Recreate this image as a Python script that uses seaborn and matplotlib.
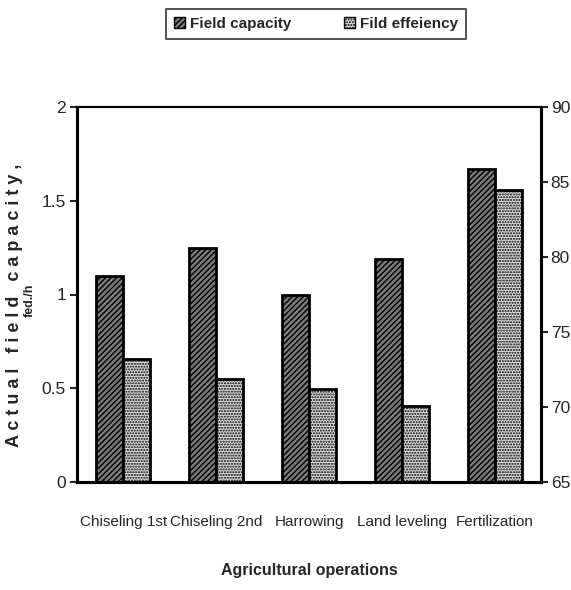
import matplotlib
matplotlib.use("Agg")
import matplotlib.pyplot as plt
import seaborn as sns
import pandas as pd
import numpy as np
from matplotlib.patches import Patch

operations = ["Chiseling 1st", "Chiseling 2nd", "Harrowing", "Land leveling", "Fertilization"]
field_capacity = [1.10, 1.25, 1.00, 1.19, 1.67]
field_efficiency = [73.2, 71.9, 71.2, 70.1, 84.5]
series = ["Field capacity", "Fild effeiency"]
left_ticks = [0, 0.5, 1, 1.5, 2]
right_ticks = [65, 70, 75, 80, 85, 90]

sns.set_style("white")
FONT = ["Liberation Sans Narrow", "Liberation Sans", "DejaVu Sans"]
plt.rcParams["font.family"] = FONT
plt.rcParams["hatch.linewidth"] = 1.0

BW = 0.29
idx = np.arange(len(operations))
df_fc = pd.DataFrame({"pos": idx - BW / 2, "val": field_capacity})
df_fe = pd.DataFrame({"pos": idx + BW / 2, "val": field_efficiency})

fig = plt.figure(figsize=(5.71, 5.90), dpi=100)
ax = fig.add_axes([77/571, 1-482/590, (541-77)/571, (482-107)/590])
ax2 = ax.twinx()

c_fc = "#7a7a7a"
c_fe = "#dcdcdc"
sns.barplot(data=df_fc, x="pos", y="val", native_scale=True, width=BW, color=c_fc,
            saturation=1, ax=ax, edgecolor="black", linewidth=2)
sns.barplot(data=df_fe, x="pos", y="val", native_scale=True, width=BW, color=c_fe,
            saturation=1, ax=ax2, edgecolor="black", linewidth=2)

for p in ax.patches:
    p.set_hatch("//////")
for p in ax2.patches:
    p.set_hatch("......")

ax.set_xlim(-0.5, 4.5)
ax.set_ylim(0, 2)
ax2.set_ylim(65, 90)
ax.set_yticks(left_ticks)
ax.set_yticklabels(["0", "0.5", "1", "1.5", "2"])
ax2.set_yticks(right_ticks)
ax2.set_yticklabels([str(t) for t in right_ticks])

ax.set_xticks(idx)
ax.set_xticklabels(operations, fontsize=11)
ax.tick_params(axis="x", length=0, pad=24)
ax.set_xticks(np.arange(-0.5, 4.0, 1.0), minor=True)
ax.tick_params(axis="x", which="minor", length=6, width=1.5, direction="out", color="black")
ax.tick_params(axis="y", length=5, width=1.5, direction="out", labelsize=12.5, left=True, pad=3)
ax2.tick_params(axis="y", length=5, width=1.5, direction="out", labelsize=12.5, right=True, pad=2)

ax.set_xlabel("Agricultural operations", fontsize=11.5, fontweight="bold", labelpad=24)
ax.set_ylabel("")
ax2.set_ylabel("")

for a in (ax, ax2):
    for s in ["left", "right", "bottom"]:
        a.spines[s].set_linewidth(2.2)
        a.spines[s].set_color("black")
    a.spines["top"].set_linewidth(1.5)
    a.spines["top"].set_color("black")

fig.text(15/571, 1-305/590, "A c t u a l   f i e l d   c a p a c i t y ,",
         rotation=90, ha="center", va="center", fontsize=13, fontweight="bold")
fig.text(30/571, 1-300/590, "fed./h", rotation=90, ha="center", va="center",
         fontsize=9, fontweight="bold")

handles = [Patch(facecolor=c_fc, edgecolor="black", hatch="//////"),
           Patch(facecolor=c_fe, edgecolor="black", hatch="......")]
leg = fig.legend(handles, series, loc="center", bbox_to_anchor=(316/571, 1-24/590), ncol=2,
                 frameon=True, fancybox=False, edgecolor="black", handlelength=0.7,
                 handleheight=0.7, handletextpad=0.3, columnspacing=3.5,
                 prop={"size": 11, "weight": "bold", "family": FONT}, borderpad=0.55)
leg.get_frame().set_linewidth(1.2)

fig.savefig("out.png", dpi=100)
